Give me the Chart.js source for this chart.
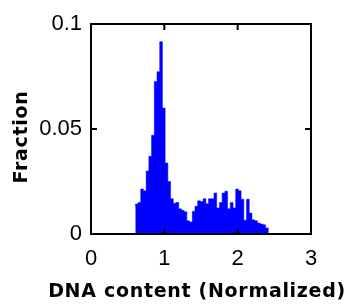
<!DOCTYPE html>
<html><head><meta charset="utf-8">
<script src="https://cdn.jsdelivr.net/npm/chart.js@4/dist/chart.umd.min.js"></script>
<style>html,body{margin:0;padding:0;background:#fff;overflow:hidden}</style>
</head><body>
<canvas id="c" width="351" height="307"></canvas>
<script>
// Histogram bin edges, DNA content (normalized); last entry closes the final bin
const binEdges = [0.604,0.641,0.678,0.715,0.752,0.789,0.826,0.863,0.900,0.937,
  0.974,1.011,1.048,1.085,1.122,1.159,1.196,1.233,1.270,1.307,
  1.344,1.381,1.418,1.455,1.492,1.529,1.566,1.603,1.640,1.677,
  1.714,1.751,1.788,1.825,1.862,1.899,1.936,1.973,2.010,2.047,
  2.084,2.121,2.158,2.195,2.232,2.269,2.306,2.343,2.380,2.417,
  2.454];
// Fraction per bin
const fractions = [0.0132,0.0143,0.0150,0.0214,0.0206,0.0300,0.0370,0.0470,0.0726,0.0773,
  0.0916,0.0600,0.0338,0.0250,0.0168,0.0147,0.0150,0.0120,0.0113,0.0106,
  0.0063,0.0057,0.0108,0.0132,0.0158,0.0155,0.0168,0.0144,0.0168,0.0168,
  0.0195,0.0124,0.0150,0.0195,0.0204,0.0120,0.0150,0.0124,0.0214,0.0206,
  0.0166,0.0065,0.0166,0.0100,0.0068,0.0063,0.0052,0.0048,0.0044,0.0029];
const xTicks = [0,1,2,3];
const yTicks = [0,0.05,0.1];
const xTitle = 'DNA content (Normalized)';
const yTitle = 'Fraction';

const titleFont = 'bold 19px "DejaVu Sans"';

const framePlugin = {
  id:'frame',
  afterDatasetsDraw(chart){
    const {ctx, chartArea:a, scales:{x,y}} = chart;
    ctx.save();
    ctx.strokeStyle='#000'; ctx.lineWidth=2;
    ctx.strokeRect(a.left, a.top, a.right-a.left, a.bottom-a.top);
    const L=6;
    ctx.beginPath();
    xTicks.forEach(v=>{const px=x.getPixelForValue(v);
      ctx.moveTo(px,a.bottom); ctx.lineTo(px,a.bottom-L);
      ctx.moveTo(px,a.top); ctx.lineTo(px,a.top+L);});
    yTicks.forEach(v=>{const py=y.getPixelForValue(v);
      ctx.moveTo(a.left,py); ctx.lineTo(a.left+L,py);
      ctx.moveTo(a.right,py); ctx.lineTo(a.right-L,py);});
    ctx.stroke();
    // axis titles
    ctx.fillStyle='#000';
    ctx.font = titleFont;
    try { ctx.letterSpacing = '0.7px'; } catch(e) {}
    ctx.textAlign='center'; ctx.textBaseline='alphabetic';
    ctx.fillText(xTitle, (a.left+a.right)/2 - 4, a.bottom + 63);
    ctx.translate(27, (a.top+a.bottom)/2 + 8);
    ctx.rotate(-Math.PI/2);
    ctx.fillText(yTitle, 0, 0);
    ctx.restore();
  }
};

new Chart(document.getElementById('c'), {
  type:'line',
  data:{datasets:[{
    data: binEdges.map((x,i)=>({x:x, y: i<fractions.length ? fractions[i] : 0})),
    stepped:'after', fill:'origin',
    backgroundColor:'#0000ff', borderColor:'#0000ff', borderWidth:0.5,
    pointRadius:0, tension:0
  }]},
  options:{
    responsive:false, animation:false, devicePixelRatio:1,
    layout:{padding:{top:24,right:40,left:0,bottom:0}},
    plugins:{legend:{display:false}, tooltip:{enabled:false}},
    scales:{
      x:{type:'linear', min:0, max:3, offset:false,
        afterBuildTicks:s=>{s.ticks = xTicks.map(v=>({value:v}));},
        afterFit:s=>{s.height=73;},
        grid:{display:false, drawTicks:false}, border:{display:false},
        ticks:{color:'#000', padding:12, maxRotation:0, autoSkip:false,
          font:{family:'Liberation Sans', size:22}}
      },
      y:{type:'linear', min:0, max:0.1,
        afterBuildTicks:s=>{s.ticks = yTicks.map(v=>({value:v}));},
        afterFit:s=>{s.width=91;},
        grid:{display:false, drawTicks:false}, border:{display:false},
        ticks:{color:'#000', padding:9,
          callback:v=>String(v),
          font:{family:'Liberation Sans', size:22}}
      }
    }
  },
  plugins:[framePlugin]
});
</script>
</body></html>
